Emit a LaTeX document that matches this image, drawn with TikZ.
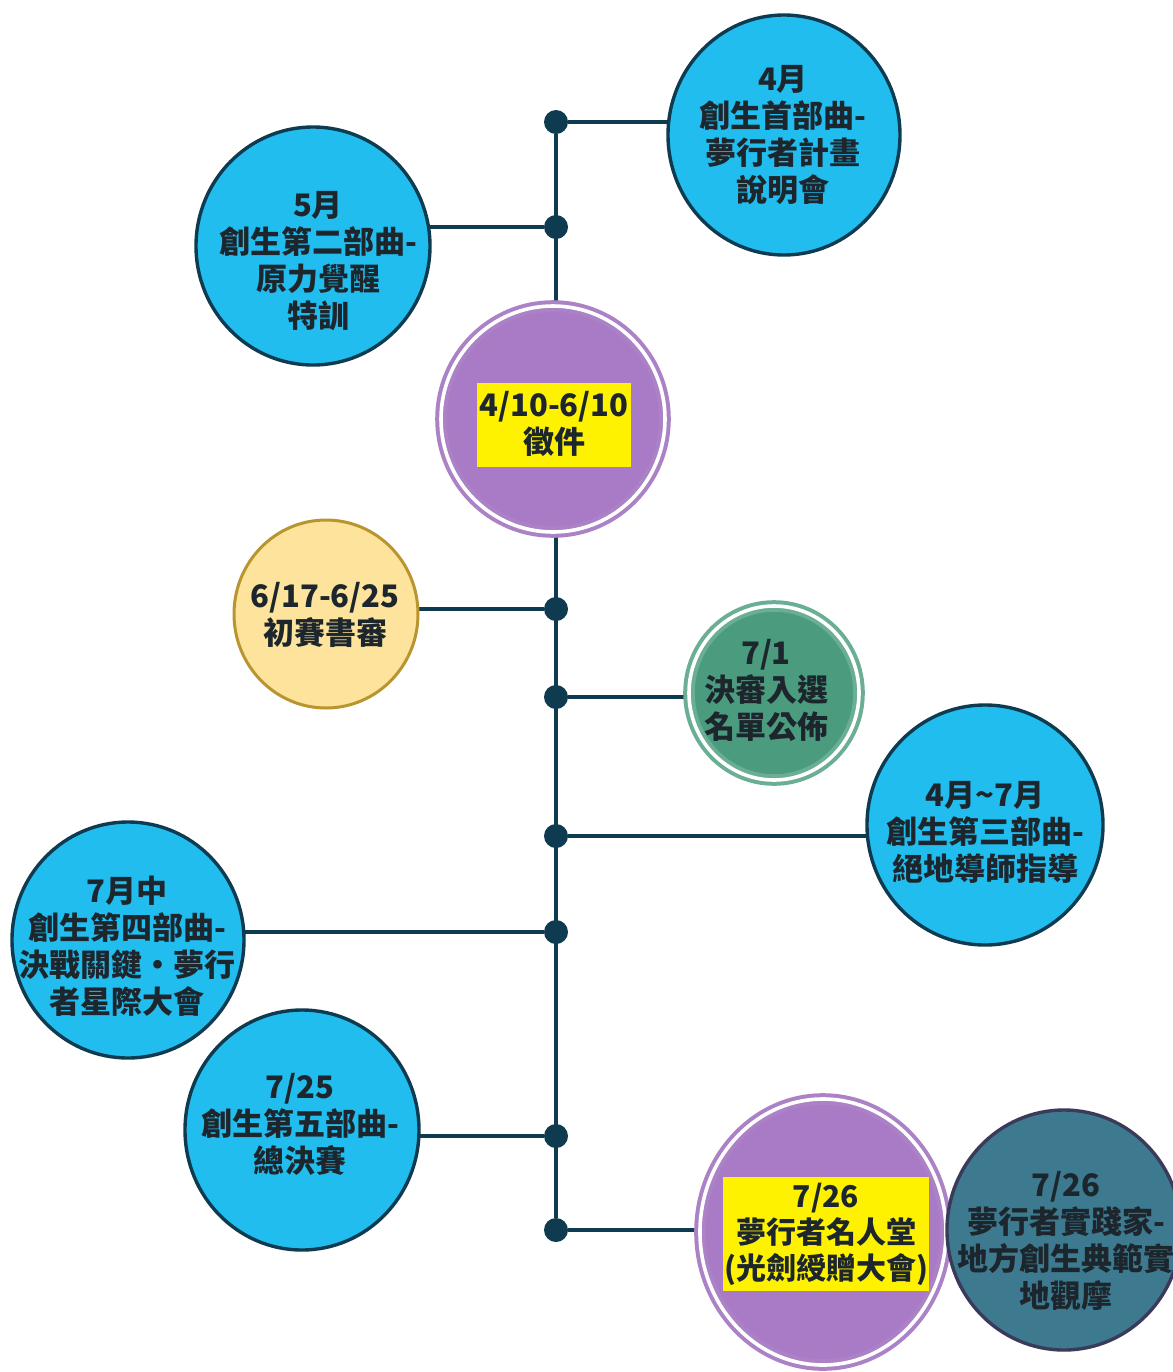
\documentclass[tikz,border=0pt]{standalone}
\usepackage{fontspec}
\setmainfont{Noto Sans CJK TC}
\usetikzlibrary{shapes.geometric, backgrounds}

\definecolor{navy}{HTML}{0E3B4F}
\definecolor{sky}{HTML}{22BDEF}
\definecolor{violet}{HTML}{A97BC7}
\definecolor{violetring}{HTML}{AC82C6}
\definecolor{sand}{HTML}{FDE39B}
\definecolor{sandline}{HTML}{B8952E}
\definecolor{jade}{HTML}{4B9B7F}
\definecolor{jadering}{HTML}{6AAE93}
\definecolor{slate}{HTML}{3D7A8F}
\definecolor{slateline}{HTML}{3A3A5A}
\definecolor{ink}{HTML}{1C262C}

\begin{document}
\begin{tikzpicture}[
    x=0.5pt, y=-0.5pt,
    event/.style={ellipse, draw=navy, line width=1.7pt, fill=sky, inner sep=0pt},
    ringed/.style={ellipse, draw=#1, line width=2pt, double=white, double distance=1.8pt, inner sep=0pt},
    evtext/.style={align=center, text=ink, inner sep=0pt, font=\fontsize{15.5pt}{18.5pt}\selectfont\bfseries},
    hilite/.style={rectangle, fill=yellow, inner sep=0pt},
    dot/.style={circle, fill=navy, inner sep=0pt, minimum size=12pt},
    link/.style={draw=navy, line width=2.4pt}
]
\useasboundingbox (0,0) rectangle (1173,1372);

% Events along the timeline
\node[event, minimum width=116pt, minimum height=120pt] (apr) at (784,135) {};
\node[evtext] (apr-t) at (783,135) {4月\\創生首部曲-\\夢行者計畫\\說明會};

\node[event, minimum width=117pt, minimum height=119pt] (may) at (313,246) {};
\node[evtext] (may-t) at (318,261) {5月\\創生第二部曲-\\原力覺醒\\特訓};

\node[ringed=violetring, fill=violet, minimum width=112pt, minimum height=113pt] (call) at (553,419) {};
\node[hilite, minimum width=77pt, minimum height=42pt] (call-m) at (554,425) {};
\node[evtext] (call-t) at (554,424) {4/10-6/10\\徵件};

\node[ellipse, draw=sandline, line width=1.5pt, fill=sand, inner sep=0pt,
      minimum width=92pt, minimum height=94pt] (prelim) at (326,614) {};
\node[evtext] (prelim-t) at (325,615) {6/17-6/25\\初賽書審};

\node[ringed=jadering, fill=jade, minimum width=85pt, minimum height=87pt] (list) at (774,693) {};
\node[evtext] (list-t) at (766,690) {7/1\\決審入選\\名單公佈};

\node[event, minimum width=118pt, minimum height=120pt] (mentor) at (985,825) {};
\node[evtext] (mentor-t) at (985,832) {4月\textasciitilde 7月\\創生第三部曲-\\絕地導師指導};

\node[event, minimum width=116pt, minimum height=118pt] (summit) at (128,940) {};
\node[evtext] (summit-t) at (127,946) {7月中\\創生第四部曲-\\決戰關鍵・夢行\\者星際大會};

\node[event, minimum width=117pt, minimum height=120pt] (final) at (302,1130) {};
\node[evtext] (final-t) at (300,1124) {7/25\\創生第五部曲-\\總決賽};

\node[ringed=violetring, fill=violet, minimum width=123pt, minimum height=133pt] (hall) at (823,1232) {};
\node[hilite, minimum width=103pt, minimum height=57pt] (hall-m) at (826,1234) {};
\node[evtext, font=\fontsize{15pt}{18pt}\selectfont\bfseries] (hall-t) at (826,1234) {7/26\\夢行者名人堂\\(光劍綬贈大會)};

\node[ellipse, draw=slateline, line width=1.7pt, fill=slate, inner sep=0pt,
      minimum width=117pt, minimum height=120pt] (tour) at (1064,1230) {};
\node[evtext] (tour-t) at (1066,1241) {7/26\\夢行者實踐家-\\地方創生典範實\\地觀摩};

% Dots on the spine
\node[dot] (d1) at (556,122) {};
\node[dot] (d2) at (556,227) {};
\node[dot] (d3) at (556,609) {};
\node[dot] (d4) at (556,697) {};
\node[dot] (d5) at (556,836) {};
\node[dot] (d6) at (556,932) {};
\node[dot] (d7) at (556,1136) {};
\node[dot] (d8) at (556,1230) {};

% Lines
\begin{scope}[on background layer]
\draw[link] (d1) -- (d8);
\draw[link] (d1) -- (d1 -| apr.center);
\draw[link] (d2) -- (d2 -| may.center);
\draw[link] (d3) -- (d3 -| prelim.center);
\draw[link] (d4) -- (d4 -| list.center);
\draw[link] (d5) -- (d5 -| mentor.center);
\draw[link] (d6) -- (d6 -| summit.center);
\draw[link] (d7) -- (d7 -| final.center);
\draw[link] (d8) -- (d8 -| hall.center);
\end{scope}

\end{tikzpicture}
\end{document}
